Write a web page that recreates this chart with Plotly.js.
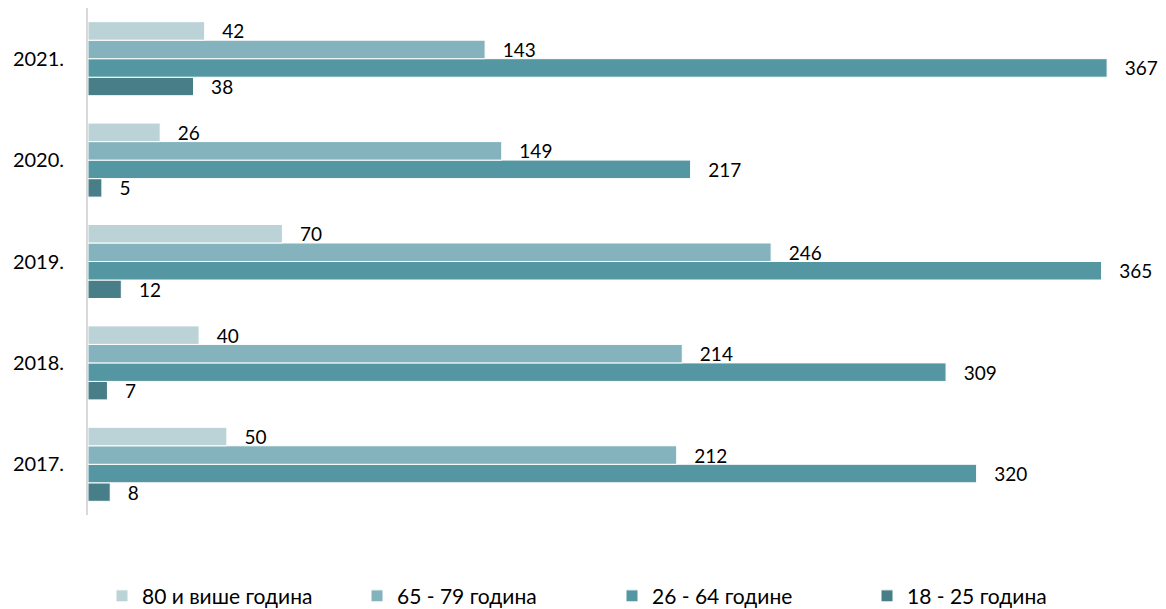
<!DOCTYPE html>
<html>
<head>
<meta charset="utf-8">
<script src="https://cdn.plot.ly/plotly-3.0.1.min.js"></script>
<style>html,body{margin:0;padding:0;background:#fff;}#chart{width:1166px;height:609px;}</style>
</head>
<body>
<div id="chart"></div>
<script>
const years = ["2017.", "2018.", "2019.", "2020.", "2021."];
const seriesNames = ["18 - 25 година", "26 - 64 године", "65 - 79 година", "80 и више година"];
const age18_25 = [8, 7, 12, 5, 38];
const age26_64 = [320, 309, 365, 217, 367];
const age65_79 = [212, 214, 246, 149, 143];
const age80plus = [50, 40, 70, 26, 42];
const colors = ["#477E88", "#5497A2", "#84B3BD", "#BBD2D7"];

const seriesValues = [age18_25, age26_64, age65_79, age80plus];
const font = "Lato, 'Open Sans', sans-serif";

const traces = seriesValues.map((vals, i) => ({
  type: "bar",
  orientation: "h",
  name: seriesNames[i],
  y: years,
  x: vals,
  marker: {color: colors[i], line: {color: "#FFFFFF", width: 1}},
  text: vals.map(String),
  texttemplate: "\u00a0\u00a0\u00a0%{text}",
  textposition: "outside",
  constraintext: "none",
  cliponaxis: false,
  textfont: {family: font, size: 19, color: "#000000"},
  hoverinfo: "x+name"
}));

const layout = {
  width: 1166,
  height: 609,
  margin: {l: 88, r: 20, t: 8, b: 94},
  paper_bgcolor: "#FFFFFF",
  plot_bgcolor: "#FFFFFF",
  barmode: "group",
  bargap: 0.27,
  bargroupgap: 0,
  showlegend: true,
  legend: {
    orientation: "h",
    traceorder: "reversed",
    x: 102 / 1166, xref: "container",
    y: 0.021, yref: "container",
    xanchor: "left", yanchor: "middle",
    entrywidth: 210, entrywidthmode: "pixels",
    font: {family: font, size: 21, color: "#000000"},
    itemclick: false
  },
  xaxis: {
    range: [0, 381],
    showgrid: false, zeroline: false, showline: false,
    showticklabels: false, ticks: "", fixedrange: true
  },
  yaxis: {
    type: "category",
    categoryorder: "array",
    categoryarray: years,
    showgrid: false, zeroline: false,
    showline: true, linecolor: "#D9D9D9", linewidth: 2,
    ticks: "", ticklabelstandoff: 18,
    tickfont: {family: font, size: 20, color: "#000000"},
    fixedrange: true
  },
  font: {family: font, size: 19, color: "#000000"}
};

Plotly.newPlot("chart", traces, layout, {displayModeBar: false, staticPlot: true});
</script>
</body>
</html>
